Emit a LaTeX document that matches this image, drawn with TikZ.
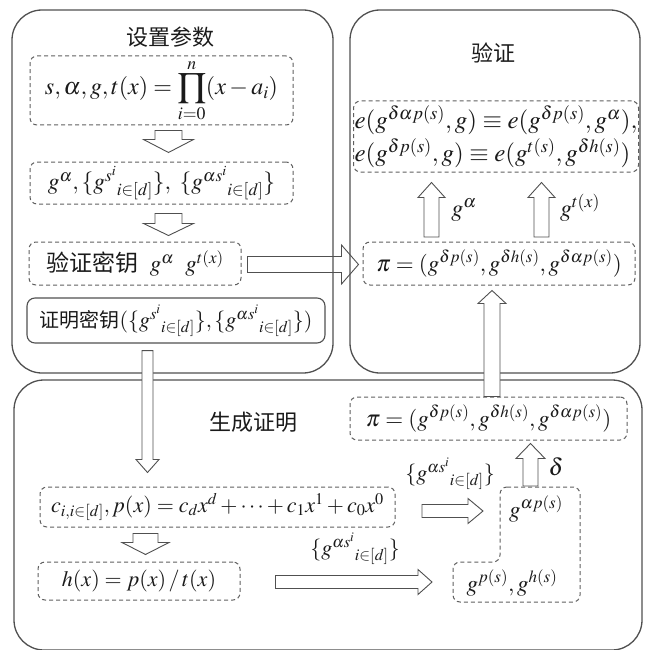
\documentclass[tikz,border=0pt]{standalone}
\usepackage{mathptmx}
\usepackage[no-math]{fontspec}
\setmainfont{Liberation Serif}
\newfontfamily\cjk{Noto Sans CJK SC}
\usetikzlibrary{calc}

\definecolor{linegray}{HTML}{505050}
\definecolor{dashgray}{HTML}{606060}
\definecolor{inkcol}{HTML}{1A1A1A}

% hollow block arrow: start, end, half shaft width, half head width, head length
\newcommand{\blockarrow}[6][]{%
  \path (#2) coordinate (ha) (#3) coordinate (hb);
  \path ($(hb)!#6!(ha)$) coordinate (hc);
  \draw[blockline,#1] ($(ha)!#4!90:(hb)$) -- ($(hc)!#4!-90:(ha)$) -- ($(hc)!#5!-90:(ha)$)
     -- (hb) -- ($(hc)!#5!90:(ha)$) -- ($(hc)!#4!90:(ha)$) -- ($(ha)!#4!-90:(hb)$) -- cycle;
}
\newcommand{\mfs}[1]{\fontsize{#1}{#1}\selectfont}

\begin{document}
\begin{tikzpicture}[x=1pt,y=-1pt,
  phase/.style={draw=linegray, line width=1.3pt, rounded corners=30pt, inner sep=0pt},
  dbox/.style={draw=dashgray, dash pattern=on 4pt off 3pt, line width=1pt, rounded corners=7pt, inner sep=0pt},
  sbox/.style={draw=linegray, line width=1.1pt, rounded corners=8pt, inner sep=0pt},
  blockline/.style={draw=linegray, line width=0.9pt, fill=white, line join=miter},
  title/.style={font=\cjk\mfs{22}, text=inkcol},
  mtext/.style={font=\mfs{22}, text=inkcol},
]
\useasboundingbox (0,0) rectangle (646,650);

% the three phases
\node[phase, minimum width=321, minimum height=363] (setup) at (172.5,191.5) {};
\node[phase, minimum width=290, minimum height=363] (verify) at (495,191.5) {};
\node[phase, minimum width=628, minimum height=270] (prove) at (328,515) {};

% titles
\node[title] (tsetup) at (170,37) {设置参数};
\node[title] (tverify) at (493,53) {验证};
\node[title] (tprove) at (253,422) {生成证明};

% setup phase
\node[dbox, mtext, font=\mfs{24}, minimum width=263, minimum height=69] (b1) at (161.5,90.5)
  {$\displaystyle s,\alpha,g,t(x)=\prod_{i=0}^{n}(x-a_i)$};
\node[dbox, mtext, font=\mfs{23.5}, minimum width=263, minimum height=42] (b2) at (161.5,183)
  {$g^{\alpha},\{{g^{s^i}}_{i\in[d]}\},\ \{{g^{\alpha s^i}}_{i\in[d]}\}$};
\node[dbox, mtext, font=\mfs{23}, minimum width=212, minimum height=43] (b3) at (135,263.5)
  {{\cjk 验证密钥}\enspace $g^{\alpha}\ \ g^{t(x)}$};
\node[sbox, mtext, minimum width=298, minimum height=45] (b4) at (176,320.5)
  {{\cjk\mfs{20}证明密钥}$(\{{g^{s^i}}_{i\in[d]}\},\{{g^{\alpha s^i}}_{i\in[d]}\})$};

% verify phase
\node[dbox, mtext, font=\mfs{25}, minimum width=282, minimum height=71, align=left, inner sep=1pt] (chk) at (496,136.5)
  {$e(g^{\delta\alpha p(s)},g)\equiv e(g^{\delta p(s)},g^{\alpha}),$\\[3pt]
   $e(g^{\delta p(s)},g)\equiv e(g^{t(s)},g^{\delta h(s)})$};
\node[dbox, mtext, font=\mfs{23}, minimum width=272, minimum height=43] (pi1) at (499,263.5)
  {$\pi=(g^{\delta p(s)},g^{\delta h(s)},g^{\delta\alpha p(s)})$};
\node[mtext, font=\mfs{24}] (lga) at (464,210) {$g^{\alpha}$};
\node[mtext, font=\mfs{24}] (lgt) at (580,208) {$g^{t(x)}$};

% proof phase
\node[dbox, mtext, font=\mfs{23}, minimum width=277, minimum height=43] (pi2) at (488.5,418.5)
  {$\pi=(g^{\delta p(s)},g^{\delta h(s)},g^{\delta\alpha p(s)})$};
\node[dbox, mtext, minimum width=355, minimum height=40] (b5) at (217.5,507)
  {$c_{i,i\in[d]},p(x)=c_dx^d+\cdots+c_1x^1+c_0x^0$};
\node[dbox, mtext, minimum width=202, minimum height=38] (b6) at (139,581)
  {$h(x)=p(x)\,/\,t(x)$};
\draw[dbox] (500,487) -- (580,487) -- (580,602) -- (453,602) -- (453,562) -- (500,562) -- cycle;
\node[mtext, font=\mfs{23}] (gap) at (536,509) {$g^{\alpha p(s)}$};
\node[mtext, font=\mfs{23}] (gph) at (512,583) {$g^{p(s)},g^{h(s)}$};
\node[mtext] (lk1) at (450,474) {$\{{g^{\alpha s^i}}_{i\in[d]}\}$};
\node[mtext] (lk2) at (355,549) {$\{{g^{\alpha s^i}}_{i\in[d]}\}$};
\node[mtext, font=\mfs{24}] (ldl) at (556,467) {$\delta$};

% arrow end points
\coordinate (a1s) at ($(b1.south)+(7,5)$);   \coordinate (a1e) at ($(b2.north)+(7,-9)$);
\coordinate (a2s) at ($(b2.south)+(7,9)$);   \coordinate (a2e) at ($(b2.south)+(7,31)$);
\coordinate (a3s) at ($(b3.east)+(6,1)$);    \coordinate (a3e) at ($(pi1.west)+(-4,1)$);
\coordinate (a4s) at ($(b4.south)+(-28.5,7)$); \coordinate (a4e) at ($(b5.north)+(-70,-14)$);
\coordinate (a5s) at ($(b5.south)+(-72,6)$); \coordinate (a5e) at ($(b6.north)+(6.5,-7)$);
\coordinate (a6s) at ($(b6.east)+(35,1)$);   \coordinate (a6e) at (432,582);
\coordinate (a7s) at (422,511);              \coordinate (a7e) at (483,511);
\coordinate (a8s) at (530.5,486);            \coordinate (a8e) at ($(pi2.south)+(42,3)$);
\coordinate (a9s) at ($(pi2.north)+(3.5,0)$); \coordinate (a9e) at ($(pi1.south)+(-7,5)$);
\coordinate (a10s) at (431.5,237);           \coordinate (a10e) at ($(chk.south)+(-64.5,10)$);
\coordinate (a11s) at (541.5,237);           \coordinate (a11e) at ($(chk.south)+(45.5,10)$);

% hollow block arrows
\blockarrow{a1s}{a1e}{13.5pt}{25pt}{13pt}
\blockarrow{a2s}{a2e}{13.5pt}{25pt}{12pt}
\blockarrow[fill=none]{a3s}{a3e}{8pt}{19.5pt}{17pt}
\blockarrow{a4s}{a4e}{5.5pt}{11.5pt}{13pt}
\blockarrow{a5s}{a5e}{12.5pt}{23.5pt}{12pt}
\blockarrow{a6s}{a6e}{6.5pt}{12.5pt}{14pt}
\blockarrow{a7s}{a7e}{6.5pt}{12.5pt}{15pt}
\blockarrow{a8s}{a8e}{7.5pt}{14.5pt}{15pt}
\blockarrow{a9s}{a9e}{8pt}{14pt}{13pt}
\blockarrow{a10s}{a10e}{7.5pt}{13.5pt}{15pt}
\blockarrow{a11s}{a11e}{7.5pt}{13.5pt}{15pt}
\end{tikzpicture}
\end{document}
